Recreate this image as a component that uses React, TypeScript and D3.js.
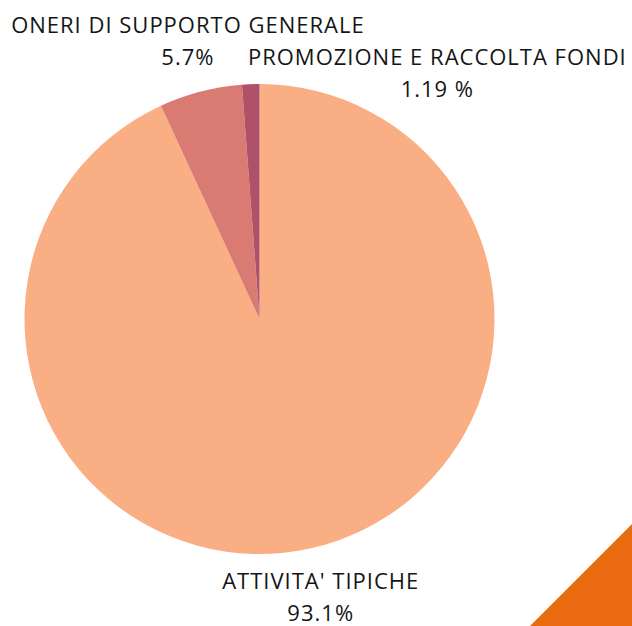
import React from "react";
import * as d3 from "d3";

const categories = ["ATTIVITA' TIPICHE", "ONERI DI SUPPORTO GENERALE", "PROMOZIONE E RACCOLTA FONDI"];
const values = [93.1, 5.7, 1.19];
const valueLabels = ["93.1%", "5.7%", "1.19 %"];
const colors = ["#F9AE84", "#D97B72", "#B0516A"];

const W = 632;
const H = 626;
const cx = 259.5;
const cy = 319;
const R = 235;
const labelR = 285;
// label block offsets (dx, dy) relative to mid-angle anchor, to avoid collisions
const labelShift = [
  [0, 2],
  [0, 0],
  [188.5, 41],
];

export default function App() {
  const pie = d3.pie<number>().sort(null).value((d) => d)(values);
  const arc = d3.arc<d3.PieArcDatum<number>>().innerRadius(0).outerRadius(R);
  const font = "'Open Sans', 'Noto Sans', sans-serif";
  return (
    <svg
      width={W}
      height={H}
      style={{ position: "absolute", left: 0, top: 0, display: "block" }}
    >
      <rect width={W} height={H} fill="#fff" />
      <g transform={`translate(${cx},${cy})`}>
        {pie.map((p, i) => (
          <path key={i} d={arc(p) || ""} fill={colors[i]} />
        ))}
      </g>
      {pie.map((p, i) => {
        const a = (p.startAngle + p.endAngle) / 2;
        const x = cx + labelR * Math.sin(a) + labelShift[i][0];
        const y = cy - labelR * Math.cos(a) + labelShift[i][1];
        return (
          <g key={i} fontFamily={font} fontSize={22} fill="#151515" textAnchor="middle" letterSpacing={1}>
            <text x={x} y={y - 10}>{categories[i]}</text>
            <text x={x} y={y + 22}>{valueLabels[i]}</text>
          </g>
        );
      })}
      <polygon points={`530,${H} ${W},524 ${W},${H}`} fill="#E96A10" />
    </svg>
  );
}
